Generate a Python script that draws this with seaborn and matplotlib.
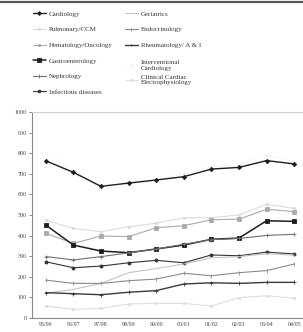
import numpy as np
import pandas as pd
import seaborn as sns
import matplotlib
matplotlib.use("Agg")
import matplotlib.pyplot as plt
from matplotlib.lines import Line2D
from matplotlib.ticker import FixedLocator

years = ["95/96", "96/97", "97/98", "98/99", "99/00", "00/01", "01/02", "02/03", "03/04", "04/05"]

cardiology = [763, 707, 639, 655, 670, 686, 723, 731, 764, 748]
geriatrics = [120, 139, 168, 220, 240, 262, 292, 298, 312, 305]
pulmonary_ccm = [474, 435, 419, 443, 460, 487, 487, 500, 552, 532]
endocrinology = [184, 168, 168, 181, 189, 217, 205, 220, 230, 262]
hematology_oncology = [411, 362, 398, 395, 438, 448, 477, 480, 528, 516]
rheumatology = [123, 118, 113, 125, 133, 165, 171, 168, 173, 173]
gastroenterology = [451, 354, 325, 317, 335, 354, 382, 388, 472, 469]
interventional_cardiology = [800, 720, 625, 650, 668, 700, 735, 745, 792, 760]
nephrology = [298, 282, 298, 316, 335, 358, 380, 386, 401, 406]
ccep = [58, 42, 47, 68, 71, 71, 58, 99, 108, 96]
infectious = [273, 244, 252, 268, 280, 268, 306, 302, 320, 311]

# (label, values, color, marker, markersize, linewidth)
series = [
    ("Cardiology", cardiology, "#1e1e1e", "D", 2.2, 1.0),
    ("Pulmonary/CCM", pulmonary_ccm, "#dcdcdc", "s", 2.0, 0.8),
    ("Hematology/Oncology", hematology_oncology, "#aaaaaa", "s", 2.2, 0.8),
    ("Gastroenterology", gastroenterology, "#1e1e1e", "s", 3.0, 1.1),
    ("Nephrology", nephrology, "#707070", "+", 2.6, 0.8),
    ("Infectious diseases", infectious, "#333333", "o", 2.2, 0.8),
    ("Geriatrics", geriatrics, "#c4c4c4", None, 0, 0.8),
    ("Endocrinology", endocrinology, "#8a8a8a", "|", 2.4, 0.8),
    ("Rheumatology/ A & I", rheumatology, "#3a3a3a", "+", 2.2, 1.0),
    ("Interventional\nCardiology", interventional_cardiology, "#f3f3f3", "s", 1.6, 0.5),
    ("Clinical Cardiac\nElectrophysiology", ccep, "#dedede", "s", 2.0, 0.8),
]

sns.set_style("white")
plt.rcParams["font.family"] = ["Liberation Sans", "DejaVu Sans"]

fig = plt.figure(figsize=(3.03, 3.32), dpi=100)
ax = fig.add_axes([32 / 303, 14 / 332, 276 / 303, 206 / 332])

handles = []
for label, vals, color, marker, ms, lw in series:
    df = pd.DataFrame({"year": years, "value": vals})
    sns.lineplot(data=df, x="year", y="value", ax=ax, color=color,
                 marker=marker if marker else None, markersize=ms,
                 markeredgecolor=color, markerfacecolor=color,
                 markeredgewidth=0.6, linewidth=lw, sort=False, legend=False,
                 zorder=1 if "Interventional" in label else 2)
    handles.append(Line2D([], [], color=color, marker=marker if marker else None,
                          markersize=ms * 0.9, markeredgecolor=color,
                          markeredgewidth=0.6, linewidth=lw, label=label))

ax.set_ylim(0, 1000)
ax.set_xlim(-0.5, len(years) - 0.5)
ax.set_yticks(np.arange(0, 1001, 100))
ax.set_yticklabels([str(v) for v in range(0, 1001, 100)])
ax.set_xlabel("")
ax.set_ylabel("")
ax.xaxis.set_minor_locator(FixedLocator(np.arange(-0.5, len(years), 1.0)))
ax.tick_params(axis="x", which="major", length=0, labelsize=4.3, pad=3, labelcolor="#444444")
ax.tick_params(axis="x", which="minor", length=2.5, width=0.6, color="#777777", direction="out")
ax.tick_params(axis="y", which="major", length=2.5, width=0.6, color="#777777",
               labelsize=4.3, pad=1.5, labelcolor="#444444", left=True)
for lab in ax.get_xticklabels() + ax.get_yticklabels():
    lab.set_fontfamily(["Liberation Serif", "DejaVu Serif"])

for side in ["left", "bottom"]:
    ax.spines[side].set_color("#8a8a8a")
    ax.spines[side].set_linewidth(0.8)
ax.spines["top"].set_color("#d0d0d0")
ax.spines["top"].set_linewidth(0.8)
ax.spines["right"].set_visible(False)

prop = {"family": ["Liberation Serif", "DejaVu Serif"], "size": 5.0}
legkw = dict(frameon=False, handlelength=1.8, handletextpad=0.5,
             borderaxespad=0, borderpad=0, prop=prop, loc="upper left")
leg1 = fig.legend(handles=handles[:6], bbox_to_anchor=(33 / 303, 1 - 11 / 332),
                  labelspacing=1.4, **legkw)
leg2 = fig.legend(handles=handles[6:9], bbox_to_anchor=(125 / 303, 1 - 11 / 332),
                  labelspacing=1.4, **legkw)
leg3 = fig.legend(handles=handles[9:], bbox_to_anchor=(125 / 303, 1 - 60 / 332),
                  labelspacing=0.55, **legkw)
for lg in (leg1, leg2, leg3):
    for t in lg.get_texts():
        t.set_color("#333333")

fig.add_artist(Line2D([0, 1], [1 - 1.5 / 332, 1 - 1.5 / 332], transform=fig.transFigure,
                      color="#555555", linewidth=1.6))

fig.savefig("out.png", dpi=100)
